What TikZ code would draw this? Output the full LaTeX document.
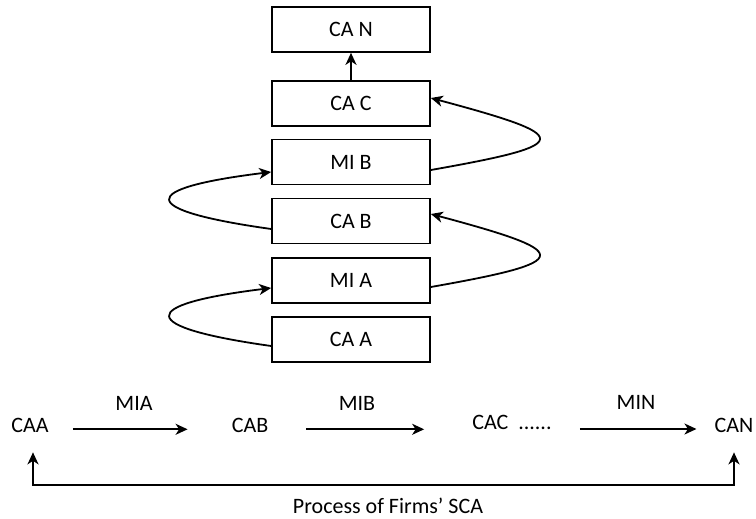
\documentclass[tikz,border=0pt]{standalone}
\usepackage{fontspec}
\setmainfont{Carlito}
\usetikzlibrary{arrows.meta}
\begin{document}
\begin{tikzpicture}[x=1pt,y=-1pt,
  every node/.style={font=\fontsize{22}{26}\selectfont},
  box/.style={draw,line width=1.7pt,minimum width=158pt,minimum height=45pt,inner sep=0pt},
  lbl/.style={inner sep=0pt,anchor=base},
  arr/.style={line width=1.8pt,-{Stealth[length=12pt,width=11pt,inset=3.5pt]}},
  dbl/.style={line width=1.8pt,{Stealth[length=12pt,width=11pt,inset=3.5pt]}-{Stealth[length=12pt,width=11pt,inset=3.5pt]}}]
\useasboundingbox (0,0) rectangle (756,519);
% stacked boxes
\node[box] (can) at (351,29.5) {CA N};
\node[box] (cac) at (351,103.5) {CA C};
\node[box] (mib) at (351,162) {MI B};
\node[box] (cab) at (351,221) {CA B};
\node[box] (mia) at (351,280.5) {MI A};
\node[box] (caa) at (351,339.5) {CA A};
\draw[arr] (cac.north) -- (can.south);
\draw[arr] ([yshift=-8pt]mib.east) .. controls +(-10:148) and +(15:148) .. ([yshift=5.5pt]cac.east);
\draw[arr] ([yshift=-6.5pt]mia.east) .. controls +(-10:148) and +(15:148) .. ([yshift=7pt]cab.east);
\draw[arr] ([yshift=-8pt]cab.west) .. controls +(188:136) and +(173:136) .. ([yshift=-10pt]mib.west);
\draw[arr] ([yshift=-6.5pt]caa.west) .. controls +(188:136) and +(173:136) .. ([yshift=-7.5pt]mia.west);
% bottom sequence
\node[lbl] (tcaa) at (30,432) {CAA};
\node[lbl] (tmia) at (134,410) {MIA};
\node[lbl] (tcab) at (250,432) {CAB};
\node[lbl] (tmib) at (357,410) {MIB};
\node[lbl] (tcac) at (512,429) {CAC\ \ ......};
\node[lbl] (tmin) at (636,409) {MIN};
\node[lbl] (tcan) at (734,432) {CAN};
\node[lbl] (proc) at (388,513) {Process of Firms’ SCA};
\coordinate (r1) at ([yshift=2.7pt]tcaa.base east);
\coordinate (r2) at ([yshift=2.7pt]tcab.base east);
\coordinate (r3) at ([yshift=0pt]tcac.base east);
\draw[arr,shorten <=24pt,shorten >=44pt] (r1) -- (r1 -| tcab.west);
\draw[arr,shorten <=38pt,shorten >=48pt] (r2) -- (r2 -| tcac.west);
\draw[arr,shorten <=28pt,shorten >=18pt] (r3) -- (r3 -| tcan.west);
\coordinate (fb1) at ([yshift=-20pt]tcan.south);
\coordinate (fb2) at ([xshift=3pt,yshift=-20pt]tcaa.south);
\draw[dbl] (fb1) -- ++(0,33) -| (fb2);
\end{tikzpicture}
\end{document}
